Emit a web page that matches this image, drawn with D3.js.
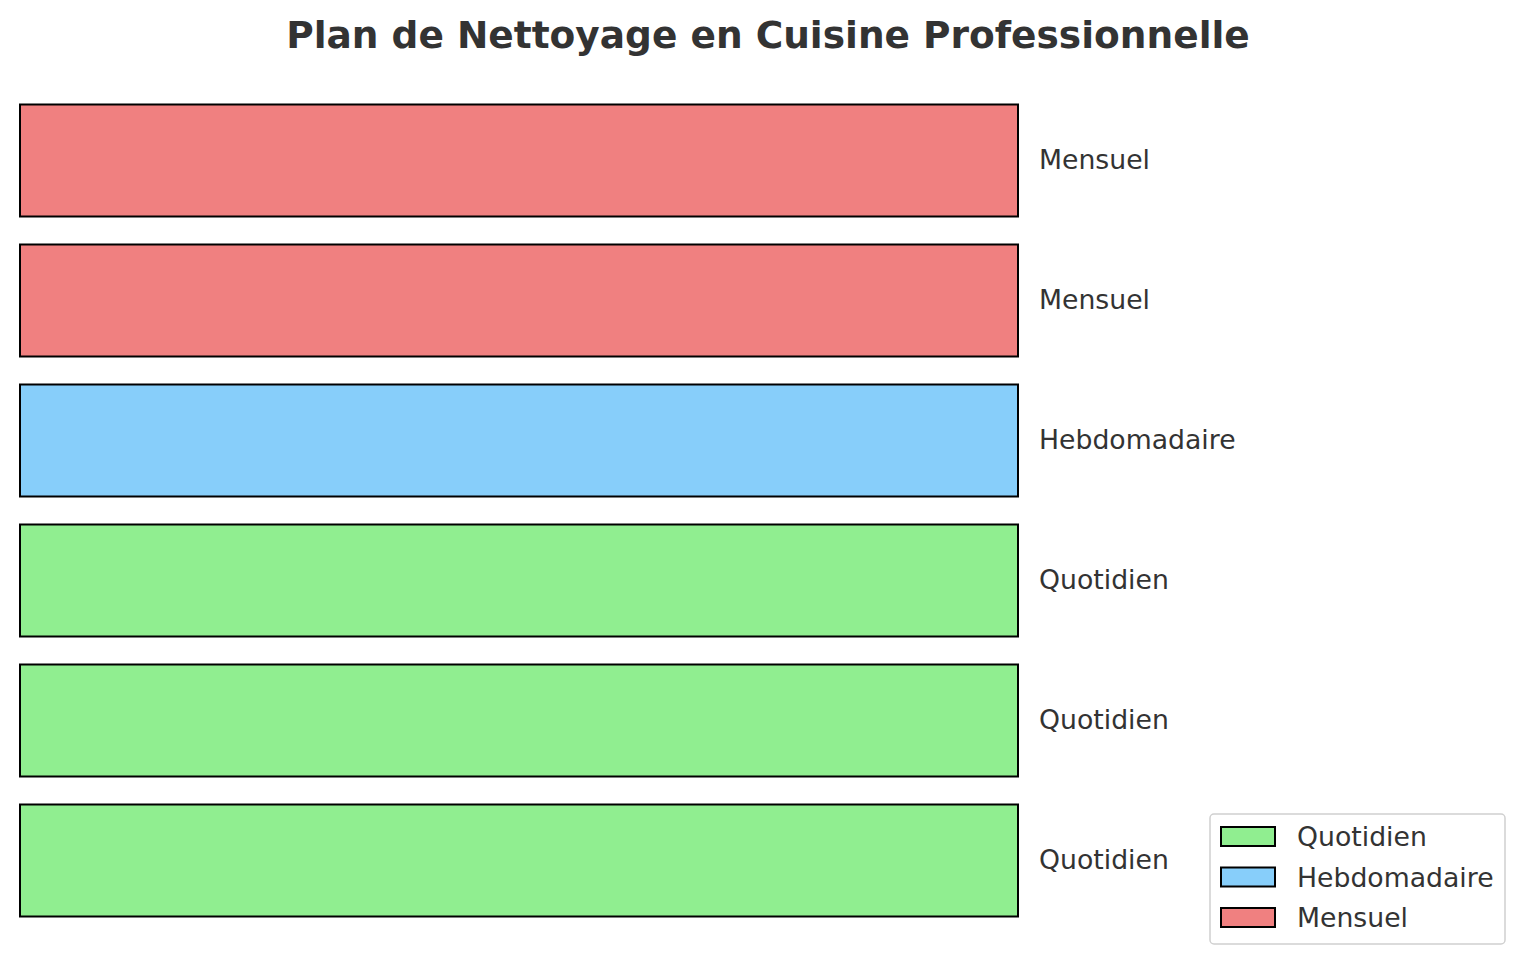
<!doctype html>
<html lang="fr">
<head>
  <meta charset="utf-8">
  <title>Plan de Nettoyage en Cuisine Professionnelle</title>
  <script src="https://d3js.org/d3.v7.min.js"></script>
  <style>
    body { margin: 0; background: #fff; }
    text { font-family: "DejaVu Sans", sans-serif; fill: #333; }
  </style>
</head>
<body>
  <div id="my_chart"></div>
<script>
  const width = 1536;
  const height = 976;

  // data (bottom to top, as drawn by barh)
  const tasks = ["Plans de travail", "Sols", "Ustensiles", "Réfrigérateurs", "Hottes", "Chambres froides"];
  const frequencies = ["Quotidien", "Quotidien", "Quotidien", "Hebdomadaire", "Mensuel", "Mensuel"];
  const values = [1, 1, 1, 1, 1, 1];
  const freq_levels = ["Quotidien", "Hebdomadaire", "Mensuel"];
  const freq_colors = ["#90ee90", "#87cefa", "#f08080"];

  const rows = tasks.map((t, i) => ({task: t, freq: frequencies[i], value: values[i]}));

  const x = d3.scaleLinear()
    .domain([0, 1])
    .range([20, 1018]);
  const y = d3.scaleBand()
    .domain(tasks.slice().reverse())
    .range([97.5, 923.5])
    .paddingInner(0.2)
    .paddingOuter(0.05);
  const color = d3.scaleOrdinal()
    .domain(freq_levels)
    .range(freq_colors);

  const svg = d3.select('#my_chart').append('svg')
    .attr('width', width)
    .attr('height', height);

  // title
  svg.append('text')
    .attr('x', 768)
    .attr('y', 48)
    .attr('text-anchor', 'middle')
    .style('font-size', '37.5px')
    .style('font-weight', 'bold')
    .text('Plan de Nettoyage en Cuisine Professionnelle');

  // bars
  svg.append('g')
    .selectAll('rect')
    .data(rows)
    .enter()
      .append('rect')
        .attr('x', x(0))
        .attr('y', (d) => y(d.task))
        .attr('width', (d) => x(d.value) - x(0))
        .attr('height', y.bandwidth())
        .style('fill', (d) => color(d.freq))
        .style('stroke', '#000')
        .style('stroke-width', 2);

  // frequency labels
  svg.append('g')
    .selectAll('text')
    .data(rows)
    .enter()
      .append('text')
        .attr('x', (d) => x(d.value) + 21)
        .attr('y', (d) => y(d.task) + y.bandwidth() / 2)
        .attr('dy', '0.31em')
        .style('font-size', '26.7px')
        .text((d) => d.freq);

  // legend
  const legend = svg.append('g')
    .attr('transform', 'translate(1210,814)');
  legend.append('rect')
    .attr('width', 295)
    .attr('height', 130)
    .attr('rx', 4)
    .style('fill', '#fff')
    .style('stroke', '#d0d0d0')
    .style('stroke-width', 1.5);
  const items = legend.selectAll('g.item')
    .data(freq_levels)
    .enter()
      .append('g')
        .attr('class', 'item')
        .attr('transform', (d, i) => 'translate(0,' + (13 + i * 40.5) + ')');
  items.append('rect')
    .attr('x', 11)
    .attr('width', 54)
    .attr('height', 19)
    .style('fill', (d) => color(d))
    .style('stroke', '#000')
    .style('stroke-width', 2);
  items.append('text')
    .attr('x', 87)
    .attr('y', 10)
    .attr('dy', '0.35em')
    .style('font-size', '26.7px')
    .text((d) => d);
</script>
</body>
</html>
